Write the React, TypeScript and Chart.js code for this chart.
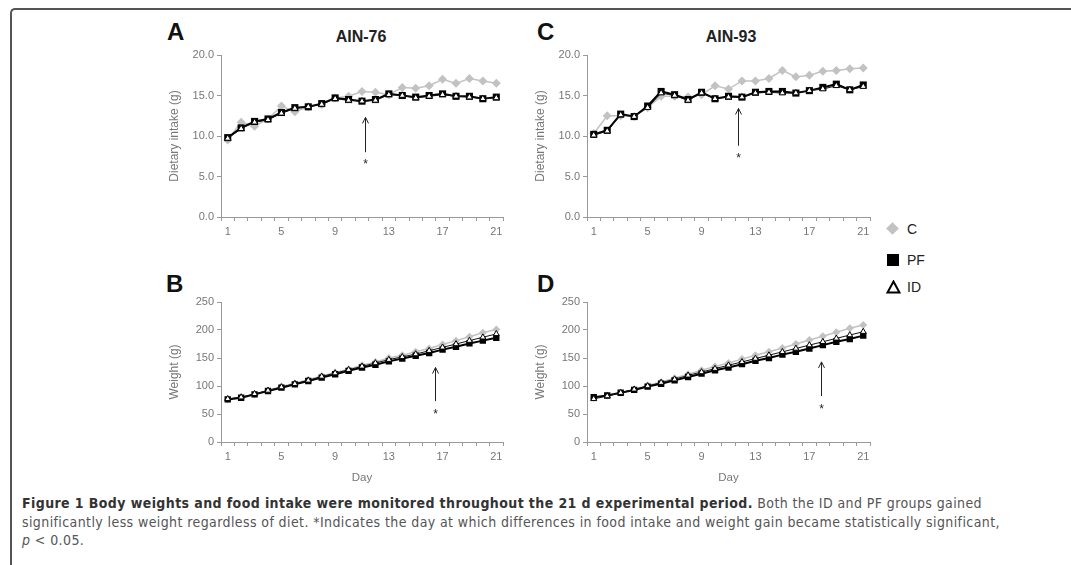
import React, { useEffect, useRef } from "react";
import { Chart, registerables } from "chart.js";

Chart.register(...registerables);

// ---------- DATA ----------
const days = ["1", "2", "3", "4", "5", "6", "7", "8", "9", "10", "11", "12", "13", "14", "15", "16", "17", "18", "19", "20", "21"];
const dayTickLabels = ["1", "5", "9", "13", "17", "21"];

// Panel A: AIN-76 dietary intake (g)
const intake76C = [9.5, 11.7, 11.2, 12.1, 13.7, 13.0, 13.6, 13.9, 14.7, 14.9, 15.5, 15.4, 15.1, 16.0, 15.9, 16.2, 17.0, 16.5, 17.1, 16.8, 16.5];
const intake76PF = [9.8, 11.0, 11.8, 12.1, 12.9, 13.5, 13.6, 14.0, 14.7, 14.5, 14.3, 14.5, 15.2, 15.0, 14.8, 15.0, 15.2, 14.9, 14.9, 14.6, 14.8];
const intake76ID = [9.7, 10.9, 11.7, 12.0, 12.8, 13.4, 13.6, 13.9, 14.6, 14.4, 14.3, 14.4, 15.1, 15.0, 14.7, 14.9, 15.1, 14.9, 14.8, 14.6, 14.7];

// Panel C: AIN-93 dietary intake (g)
const intake93C = [10.3, 12.5, 12.5, 12.4, 13.5, 14.9, 14.9, 14.8, 15.1, 16.2, 15.8, 16.8, 16.8, 17.1, 18.1, 17.3, 17.5, 18.0, 18.1, 18.3, 18.4];
const intake93PF = [10.2, 10.7, 12.7, 12.4, 13.7, 15.5, 15.1, 14.5, 15.4, 14.6, 14.9, 14.8, 15.4, 15.5, 15.5, 15.3, 15.6, 16.0, 16.4, 15.7, 16.3];
const intake93ID = [10.1, 10.6, 12.6, 12.4, 13.5, 15.3, 15.0, 14.4, 15.3, 14.6, 14.8, 14.8, 15.3, 15.4, 15.3, 15.3, 15.6, 15.8, 16.2, 15.7, 16.1];

// Panel B: AIN-76 weight (g)
const weight76C = [76, 80, 85, 92, 99, 105, 111, 118, 124, 130, 137, 143, 150, 155, 161, 167, 174, 181, 188, 195, 201];
const weight76PF = [76, 79, 85, 91, 97, 103, 109, 115, 121, 127, 133, 138, 144, 149, 154, 159, 165, 170, 176, 181, 186];
const weight76ID = [77, 80, 86, 92, 98, 104, 110, 117, 123, 129, 135, 141, 147, 152, 157, 163, 169, 175, 181, 187, 193];

// Panel D: AIN-93 weight (g)
const weight93C = [79, 83, 88, 94, 101, 107, 114, 121, 128, 135, 141, 148, 155, 161, 168, 175, 182, 189, 196, 203, 209];
const weight93PF = [80, 83, 88, 93, 99, 104, 110, 116, 122, 128, 133, 139, 145, 150, 156, 161, 167, 173, 179, 184, 190];
const weight93ID = [77, 82, 88, 94, 100, 106, 112, 119, 125, 131, 137, 143, 149, 155, 161, 167, 173, 179, 185, 191, 197];

// Significance arrows: [day position, arrow tail value, arrow tip value, asterisk value]
const arrowA = [11.2, 8.0, 12.3, 6.7];
const arrowB = [16.4, 73, 133, 53];
const arrowC = [11.7, 8.8, 13.4, 7.4];
const arrowD = [17.9, 82, 143, 62];

const seriesNames = ["C", "PF", "ID"];

// ---------- STYLES ----------
const AXIS = "#9a9a9a";
const TICK_TXT = "#777";
const GRAY = "#c2c2c2";
const FONT = "'Liberation Sans', Arial, sans-serif";

type Spec = {
  axisX: number;
  plotTop: number;
  plotBottom: number;
  plotRight: number;
  xHeight: number;
  yMax: number;
  yStep: number;
  yDec: number;
  yTitle: string;
  xTitle?: string;
  c: number[];
  pf: number[];
  id: number[];
  arrow: number[];
  big: boolean;
};

const arrowPlugin = {
  id: "sigArrow",
  afterDatasetsDraw(chart: any, _args: any, opts: any) {
    const a = opts && opts.arrow;
    if (!a) return;
    const { ctx, scales } = chart;
    const x = Math.round(scales.x.getPixelForValue(a[0] - 1)) + 0.5;
    const yTail = scales.y.getPixelForValue(a[1]);
    const yTip = scales.y.getPixelForValue(a[2]);
    const yStar = scales.y.getPixelForValue(a[3]);
    ctx.save();
    ctx.strokeStyle = "#222";
    ctx.lineWidth = 1;
    ctx.beginPath();
    ctx.moveTo(x, yTail);
    ctx.lineTo(x, yTip);
    ctx.moveTo(x - 3, yTip + 6);
    ctx.lineTo(x, yTip);
    ctx.lineTo(x + 3, yTip + 6);
    ctx.stroke();
    ctx.fillStyle = "#222";
    ctx.font = `12px ${FONT}`;
    ctx.textAlign = "center";
    ctx.textBaseline = "middle";
    ctx.fillText("*", x, yStar + 2);
    ctx.restore();
  },
};

function Panel({ spec }: { spec: Spec }) {
  const ref = useRef<HTMLCanvasElement | null>(null);
  const left = spec.axisX - 70;
  const top = spec.plotTop - 12;
  const width = spec.plotRight + 6 - left;
  const height = spec.plotBottom + spec.xHeight - top;

  useEffect(() => {
    if (!ref.current) return;
    const chart = new Chart(ref.current, {
      type: "line",
      data: {
        labels: days,
        datasets: [
          {
            label: seriesNames[0],
            data: spec.c,
            borderColor: GRAY,
            backgroundColor: GRAY,
            borderWidth: 1.5,
            pointStyle: "rectRot",
            pointRadius: spec.big ? 4.5 : 4,
            pointBorderWidth: 0,
            pointBackgroundColor: GRAY,
            order: 3,
          },
          {
            label: seriesNames[1],
            data: spec.pf,
            borderColor: "#000",
            backgroundColor: "#000",
            borderWidth: 2,
            pointStyle: "rect",
            pointRadius: spec.big ? 5 : 4.5,
            pointBorderWidth: 0,
            pointBackgroundColor: "#000",
            order: 2,
          },
          {
            label: seriesNames[2],
            data: spec.id,
            borderColor: "#111",
            backgroundColor: "#fff",
            borderWidth: 1,
            pointStyle: "triangle",
            pointRadius: spec.big ? 3.6 : 3.4,
            pointBorderWidth: 1,
            pointBorderColor: "#000",
            pointBackgroundColor: "#fff",
            order: 1,
          },
        ],
      },
      options: {
        responsive: false,
        animation: false,
        events: [],
        layout: { padding: { left: 16, top: 12, right: 6, bottom: 0 } },
        plugins: {
          legend: { display: false },
          tooltip: { enabled: false },
          title: { display: false },
          sigArrow: { arrow: spec.arrow },
        } as any,
        scales: {
          x: {
            type: "category",
            offset: true,
            afterFit: (s: any) => {
              s.height = spec.xHeight;
            },
            grid: {
              display: true,
              offset: true,
              drawOnChartArea: false,
              drawTicks: true,
              tickLength: 4,
              color: AXIS,
            },
            border: { display: true, color: AXIS, width: 1 },
            ticks: {
              autoSkip: false,
              maxRotation: 0,
              padding: 4,
              color: TICK_TXT,
              font: { family: FONT, size: 11 },
              callback: (_v: any, i: number) => (dayTickLabels.includes(days[i]) ? days[i] : ""),
            },
            title: spec.xTitle
              ? {
                  display: true,
                  text: spec.xTitle,
                  color: TICK_TXT,
                  font: { family: FONT, size: 11.5 },
                  padding: { top: 0, bottom: 0 },
                }
              : { display: false },
          },
          y: {
            min: 0,
            max: spec.yMax,
            afterFit: (s: any) => {
              s.width = 54;
            },
            grid: {
              display: true,
              drawOnChartArea: false,
              drawTicks: true,
              tickLength: 4,
              color: AXIS,
            },
            border: { display: true, color: AXIS, width: 1 },
            ticks: {
              stepSize: spec.yStep,
              padding: 3,
              color: TICK_TXT,
              font: { family: FONT, size: 11 },
              callback: (v: any) => Number(v).toFixed(spec.yDec),
            },
            title: {
              display: true,
              text: spec.yTitle,
              color: TICK_TXT,
              font: { family: FONT, size: 12 },
              padding: { top: 0, bottom: 0 },
            },
          },
        },
      },
      plugins: [arrowPlugin],
    });
    return () => chart.destroy();
  }, []);

  return (
    <canvas
      ref={ref}
      width={width}
      height={height}
      style={{ position: "absolute", left, top, width, height }}
    />
  );
}

const specA: Spec = {
  axisX: 221, plotTop: 55, plotBottom: 217, plotRight: 503, xHeight: 25,
  yMax: 20, yStep: 5, yDec: 1, yTitle: "Dietary intake (g)",
  c: intake76C, pf: intake76PF, id: intake76ID, arrow: arrowA, big: true,
};
const specC: Spec = {
  axisX: 587, plotTop: 55, plotBottom: 217, plotRight: 870, xHeight: 25,
  yMax: 20, yStep: 5, yDec: 1, yTitle: "Dietary intake (g)",
  c: intake93C, pf: intake93PF, id: intake93ID, arrow: arrowC, big: true,
};
const specB: Spec = {
  axisX: 221, plotTop: 302, plotBottom: 442, plotRight: 503, xHeight: 43,
  yMax: 250, yStep: 50, yDec: 0, yTitle: "Weight (g)", xTitle: "Day",
  c: weight76C, pf: weight76PF, id: weight76ID, arrow: arrowB, big: false,
};
const specD: Spec = {
  axisX: 587, plotTop: 302, plotBottom: 442, plotRight: 870, xHeight: 43,
  yMax: 250, yStep: 50, yDec: 0, yTitle: "Weight (g)", xTitle: "Day",
  c: weight93C, pf: weight93PF, id: weight93ID, arrow: arrowD, big: false,
};

const letterStyle = (left: number, top: number): React.CSSProperties => ({
  position: "absolute",
  left,
  top,
  fontFamily: FONT,
  fontWeight: "bold",
  fontSize: 24,
  lineHeight: 1,
  color: "#111",
});

const titleStyle = (cx: number): React.CSSProperties => ({
  position: "absolute",
  left: cx - 100,
  width: 200,
  top: 29,
  textAlign: "center",
  fontFamily: FONT,
  fontWeight: "bold",
  fontSize: 16,
  lineHeight: 1,
  color: "#222",
});

const legendText: React.CSSProperties = {
  position: "absolute",
  left: 907,
  fontFamily: FONT,
  fontSize: 14,
  lineHeight: 1,
  color: "#222",
};

export default function App() {
  return (
    <div
      style={{
        position: "fixed",
        left: 0,
        top: 0,
        width: 1071,
        height: 565,
        overflow: "hidden",
        background: "#fff",
      }}
    >
      {/* frame */}
      <div
        style={{
          position: "absolute",
          left: 10,
          top: 8,
          width: 1200,
          height: 700,
          borderLeft: "2px solid #555",
          borderTop: "2px solid #555",
          borderTopLeftRadius: 5,
        }}
      />

      <div style={letterStyle(167, 20)}>A</div>
      <div style={letterStyle(537, 20)}>C</div>
      <div style={letterStyle(166, 272)}>B</div>
      <div style={letterStyle(537, 272)}>D</div>
      <div style={titleStyle(361)}>AIN-76</div>
      <div style={titleStyle(731)}>AIN-93</div>

      <Panel spec={specA} />
      <Panel spec={specC} />
      <Panel spec={specB} />
      <Panel spec={specD} />

      {/* legend */}
      <div
        style={{
          position: "absolute",
          left: 888,
          top: 224,
          width: 9,
          height: 9,
          background: GRAY,
          transform: "rotate(45deg)",
        }}
      />
      <div style={{ ...legendText, top: 222 }}>{seriesNames[0]}</div>
      <div style={{ position: "absolute", left: 887, top: 254, width: 12, height: 12, background: "#000" }} />
      <div style={{ ...legendText, top: 253 }}>{seriesNames[1]}</div>
      <svg style={{ position: "absolute", left: 886, top: 280 }} width={15} height={14}>
        <polygon points="7.5,1.5 13.5,12.5 1.5,12.5" fill="#fff" stroke="#000" strokeWidth={2} />
      </svg>
      <div style={{ ...legendText, top: 280 }}>{seriesNames[2]}</div>

      {/* caption */}
      <div
        style={{
          position: "absolute",
          left: 22,
          top: 494,
          whiteSpace: "nowrap",
          fontFamily: "'Liberation Sans Narrow', 'DejaVu Sans Condensed', 'Liberation Sans', sans-serif",
          fontSize: 14,
          letterSpacing: "0.4px",
          lineHeight: "18.5px",
          color: "#555",
        }}
      >
        <span style={{ fontWeight: "bold", color: "#333" }}>
          Figure 1 Body weights and food intake were monitored throughout the 21 d experimental period.
        </span>{" "}
        Both the ID and PF groups gained
        <br />
        significantly less weight regardless of diet. *Indicates the day at which differences in food intake and weight gain became statistically significant,
        <br />
        <i>p</i> &lt; 0.05.
      </div>
    </div>
  );
}
